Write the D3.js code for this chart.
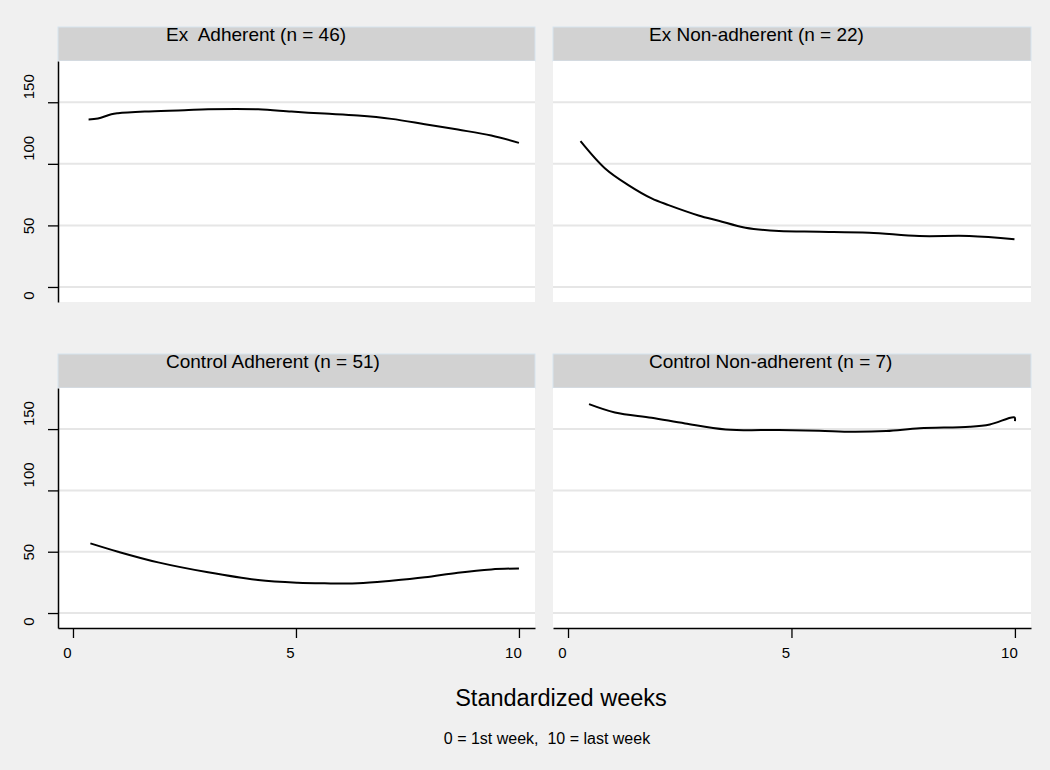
<!DOCTYPE html>
<html>
<head>
<meta charset="utf-8">
<script src="https://cdn.jsdelivr.net/npm/d3@7"></script>
<style>
  html, body { margin: 0; padding: 0; background: #f0f0f0; }
  svg { display: block; font-family: "Liberation Sans", Arial, sans-serif; }
  svg text { white-space: pre; }
</style>
</head>
<body>
<svg id="chart" width="1050" height="770"></svg>
<script>
// ---------- data ----------
const panelTitles = ["Ex  Adherent (n = 46)", "Ex Non-adherent (n = 22)", "Control Adherent (n = 51)", "Control Non-adherent (n = 7)"];

const exAdhWeeks = [0.35, 0.56, 0.86, 1.01, 1.61, 2.5, 3.03, 4.15, 4.9, 5.64, 6.39, 7.14, 7.89, 8.63, 9.38, 10.0];
const exAdhVals  = [136, 136.8, 140.3, 141.1, 142.4, 143.5, 144.3, 144.3, 142.4, 140.8, 139.2, 136.5, 132.2, 127.8, 123, 117];

const exNonWeeks = [0.28, 0.83, 1.35, 1.87, 2.25, 2.92, 3.37, 3.97, 4.72, 5.62, 6.74, 7.86, 8.98, 9.99];
const exNonVals  = [118.4, 96.2, 82.7, 71.9, 66.5, 58.1, 53.8, 48.1, 45.4, 44.9, 44.1, 41.4, 41.4, 38.7];

const ctlAdhWeeks = [0.39, 1.01, 1.91, 3.03, 4.15, 5.04, 5.64, 6.39, 7.14, 7.89, 8.63, 9.38, 10.0];
const ctlAdhVals  = [56.8, 50, 41.3, 33.2, 26.9, 24.7, 24.2, 24.2, 26.3, 29.1, 32.9, 35.6, 36.4];

const ctlNonWeeks = [0.47, 1.05, 1.87, 2.62, 3.53, 4.72, 5.62, 6.37, 7.12, 7.87, 8.99, 9.44, 9.99, 10.0];
const ctlNonVals  = [170.4, 163.6, 159.2, 154.6, 149.7, 149.2, 148.6, 147.8, 148.4, 150.6, 151.9, 153.8, 159.5, 156.5];

const yTicks = [0, 50, 100, 150];
const xTicks = [0, 5, 10];
const xTitle = "Standardized weeks";
const note = "0 = 1st week,  10 = last week";

// ---------- layout ----------
const svg = d3.select("#chart");
const cols = [{x0: 58, x1: 535}, {x0: 553, x1: 1031}];
const rows = [{h0: 27, p0: 61, p1: 302}, {h0: 354, p0: 388, p1: 628}];
const titleX = [166, 649];
const yLabelShift = {0: 8, 50: 0, 100: -16, 150: -16};

const seriesList = [
  {w: exAdhWeeks, v: exAdhVals},
  {w: exNonWeeks, v: exNonVals},
  {w: ctlAdhWeeks, v: ctlAdhVals},
  {w: ctlNonWeeks, v: ctlNonVals}
];

panelTitles.forEach((title, i) => {
  const r = rows[Math.floor(i / 2)], c = cols[i % 2];
  const x = d3.scaleLinear().domain([-0.336, 10.36]).range([c.x0, c.x1]);
  const y = d3.scaleLinear().domain([-12.2, 183.5]).range([r.p1, r.p0]);
  const g = svg.append("g");

  // header strip
  g.append("rect").attr("x", c.x0).attr("y", r.h0).attr("width", c.x1 - c.x0).attr("height", r.p0 - r.h0)
    .attr("fill", "#d2d2d2").attr("stroke", "#d6e3ee").attr("stroke-width", 1);
  g.append("text").attr("x", titleX[i % 2]).attr("y", r.h0 + 13.5).attr("font-size", 19)
    .attr("fill", "#000").text(title);

  // plot area
  g.append("rect").attr("x", c.x0).attr("y", r.p0).attr("width", c.x1 - c.x0).attr("height", r.p1 - r.p0)
    .attr("fill", "#ffffff");

  // gridlines
  g.selectAll(".grid").data(yTicks).enter().append("line")
    .attr("x1", c.x0).attr("x2", c.x1)
    .attr("y1", d => y(d)).attr("y2", d => y(d))
    .attr("stroke", "#e6e6e6").attr("stroke-width", 2);

  // y axis (left column only)
  if (i % 2 === 0) {
    const ya = g.append("g").attr("transform", `translate(${c.x0},0)`)
      .call(d3.axisLeft(y).tickValues(yTicks).tickSize(10).tickSizeOuter(0));
    ya.select(".domain").attr("stroke", "#000").attr("stroke-width", 1.5);
    ya.selectAll(".tick line").attr("stroke", "#000").attr("stroke-width", 1.3);
    ya.selectAll(".tick text")
      .attr("transform", "rotate(-90)")
      .attr("x", d => -yLabelShift[d]).attr("y", -24).attr("dy", 0)
      .attr("text-anchor", "middle").attr("font-size", 15).attr("fill", "#000")
      .style("font-family", "Liberation Sans, Arial, sans-serif");
  }

  // x axis (bottom row only)
  if (i >= 2) {
    const xa = g.append("g").attr("transform", `translate(0,${r.p1})`)
      .call(d3.axisBottom(x).tickValues(xTicks).tickSize(10).tickSizeOuter(0));
    xa.select(".domain").attr("stroke", "#000").attr("stroke-width", 1.5);
    xa.selectAll(".tick line").attr("stroke", "#000").attr("stroke-width", 1.3);
    xa.selectAll(".tick text").attr("y", 30).attr("dy", 0).attr("dx", -6)
      .attr("font-size", 15).attr("fill", "#000")
      .style("font-family", "Liberation Sans, Arial, sans-serif");
  }

  // curve
  const s = seriesList[i];
  const pts = s.w.map((w, k) => [w, s.v[k]]);
  const line = d3.line().x(d => x(d[0])).y(d => y(d[1])).curve(d3.curveCatmullRom.alpha(0.5));
  g.append("path").datum(pts).attr("d", line)
    .attr("fill", "none").attr("stroke", "#000").attr("stroke-width", 2);
});

// axis titles
svg.append("text").attr("x", 561).attr("y", 706).attr("text-anchor", "middle")
  .attr("font-size", 23.5).attr("fill", "#000").text(xTitle);
svg.append("text").attr("x", 547).attr("y", 744).attr("text-anchor", "middle")
  .attr("font-size", 16).attr("fill", "#000").text(note);
</script>
</body>
</html>
